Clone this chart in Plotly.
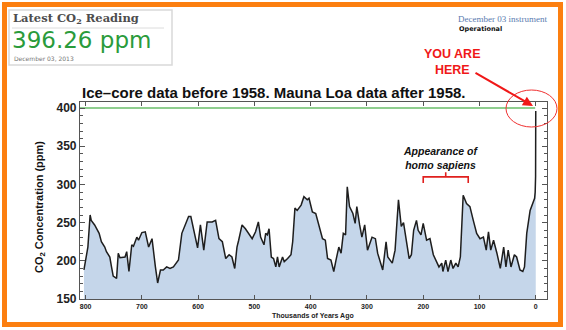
import plotly.graph_objects as go

# Carbon dioxide record: thousands of years before present and concentration (ppm)
years_kya = [
    803, 799, 796, 792, 790, 784, 781, 776, 772, 766, 763, 757, 754, 751, 745,
    742, 739, 730, 727, 723, 718, 715, 709, 706, 700, 694, 688, 682, 676, 672,
    667, 662, 656, 650, 644, 635, 629, 617, 613, 608, 601, 596, 590, 584, 575,
    569, 563, 557, 551, 545, 540, 535, 531, 528, 522, 516, 510, 504, 498, 493,
    489, 483, 480, 477, 474, 470, 466, 462, 459, 456, 450, 447, 441, 435, 432,
    428, 424, 417, 412, 406, 403, 397, 391, 385, 379, 374, 370, 364, 359, 355,
    350, 346, 342, 338, 335, 331, 325, 321, 318, 313, 309, 304, 299, 291, 285,
    281, 275, 272, 266, 263, 255, 250, 244, 239, 235, 230, 225, 221, 217, 212,
    209, 204, 200, 194, 188, 182, 176, 172, 167, 165, 160, 156, 151, 147, 142,
    138, 134, 129, 123, 117, 111, 105, 99, 93, 88, 84, 80, 75, 69, 63,
    57, 53, 49, 44, 38, 34, 28, 23, 20, 16, 10, 5, 2, 1, 0.3, 0,
]
co2_ppm = [
    188, 205, 218, 260, 253, 247, 243, 236, 225, 218, 212, 205, 192, 180, 177,
    210, 204, 205, 212, 186, 221, 219, 231, 227, 237, 238, 218, 229, 192, 171,
    188, 188, 192, 190, 192, 201, 236, 258, 258, 240, 217, 247, 214, 251, 251,
    253, 229, 225, 203, 208, 205, 190, 218, 227, 247, 242, 236, 229, 238, 251,
    231, 221, 236, 234, 242, 205, 203, 192, 205, 192, 205, 199, 203, 208, 225,
    269, 266, 273, 284, 280, 282, 264, 262, 247, 229, 227, 203, 201, 186, 201,
    218, 210, 236, 234, 297, 271, 262, 249, 271, 247, 231, 247, 214, 231, 229,
    210, 197, 188, 225, 205, 197, 214, 280, 245, 250, 225, 203, 208, 240, 253,
    240, 234, 249, 227, 229, 208, 199, 192, 197, 186, 201, 186, 201, 190, 197,
    192, 205, 286, 275, 271, 253, 236, 229, 231, 214, 238, 214, 227, 210, 190,
    218, 192, 214, 192, 208, 205, 188, 186, 192, 236, 266, 275, 282, 290, 310, 396.26,
]

x_ticks = [800, 700, 600, 500, 400, 300, 200, 100, 0]
reference_level = 400          # ppm guide line
latest_reading = "396.26 ppm"
latest_date = "December 03, 2013"
sapiens_span = (200, 120)      # thousands of years ago

W, H = 566, 330
L, R, T, B = 80, 547, 102, 299   # plot area in pixels


def px(x):
    return (x - L) / (R - L)


def py(y):
    return (B - y) / (B - T)


fig = go.Figure()

fig.add_trace(go.Scatter(
    x=[810, 1], y=[reference_level, reference_level], mode="lines",
    line=dict(color="#8fce8f", width=2), hoverinfo="skip", showlegend=False,
))
fig.add_trace(go.Scatter(
    x=years_kya, y=co2_ppm, mode="lines", fill="tozeroy",
    fillcolor="rgb(197,214,234)", line=dict(color="#1e1e1e", width=1.5),
    showlegend=False,
))

axis_common = dict(
    showline=True, linecolor="#555", linewidth=1.2, mirror="allticks",
    ticks="inside", tickcolor="#555", showgrid=False, zeroline=False,
)
fig.update_xaxes(
    range=[810, -20], tickvals=x_ticks, ticklen=4,
    tickfont=dict(family="Liberation Sans", size=7, color="#222", weight="bold"),
    **axis_common,
)
fig.update_yaxes(
    range=[150, 408], tick0=150, dtick=50, ticklen=5,
    minor=dict(ticks="inside", dtick=10, ticklen=3, tickcolor="#555"),
    tickfont=dict(family="Liberation Sans", size=12, color="#222", weight="bold"),
    **axis_common,
)

annotations = [
    dict(text="Ice–core data before 1958. Mauna Loa data after 1958.",
         x=px(80), y=py(92), xanchor="left", yanchor="middle",
         font=dict(family="Liberation Sans", size=15, color="#111", weight="bold")),
    dict(text="CO<sub>2</sub> Concentration (ppm)", textangle=-90,
         x=px(40), y=py(207), xanchor="center", yanchor="middle",
         font=dict(family="Liberation Sans", size=11, color="#111", weight="bold")),
    dict(text="Thousands of Years Ago", x=px(313), y=py(316),
         xanchor="center", yanchor="middle",
         font=dict(family="Liberation Sans", size=7, color="#222", weight="bold")),
    dict(text="Latest CO<sub>2</sub> Reading", x=px(11), y=py(18),
         xanchor="left", yanchor="middle",
         font=dict(family="DejaVu Serif", size=11.5, color="#4d4d4d", weight="bold")),
    dict(text=latest_reading, x=px(10), y=py(40), xanchor="left", yanchor="middle",
         font=dict(family="DejaVu Sans", size=23, color="#2a9b3b")),
    dict(text=latest_date, x=px(12), y=py(58), xanchor="left", yanchor="middle",
         font=dict(family="DejaVu Sans", size=6, color="#777")),
    dict(text="December 03 instrument", x=px(456), y=py(19),
         xanchor="left", yanchor="middle",
         font=dict(family="Liberation Serif", size=9, color="#5a7bb0")),
    dict(text="Operational", x=px(457), y=py(29), xanchor="left", yanchor="middle",
         font=dict(family="DejaVu Sans", size=6.5, color="#111", weight="bold")),
    dict(text="YOU ARE<br>HERE", x=px(452), y=py(62), xanchor="center", yanchor="middle",
         align="center",
         font=dict(family="Liberation Sans", size=12.5, color="#f01818", weight="bold")),
    dict(text="", x=px(533), y=py(106), ax=474 - 533, ay=72 - 106,
         showarrow=True, arrowhead=2, arrowsize=1, arrowwidth=2, arrowcolor="#f01818"),
    dict(text="<i>Appearance of<br>homo sapiens</i>", x=170, y=335, xref="x", yref="y",
         xanchor="center", yanchor="middle", align="center",
         font=dict(family="Liberation Sans", size=10.5, color="#111", weight="bold")),
]
for a in annotations:
    a.setdefault("xref", "paper")
    a.setdefault("yref", "paper")
    a.setdefault("showarrow", False)
fig.update_layout(annotations=annotations)

s0, s1 = sapiens_span
mid = (s0 + s1) / 2
shapes = [
    # reading panel
    dict(type="rect", xref="paper", yref="paper", x0=px(9), x1=px(172),
         y0=py(65), y1=py(10), line=dict(color="#d9d9d9", width=1.5),
         fillcolor="white", layer="below"),
    dict(type="line", xref="paper", yref="paper", x0=px(12), x1=px(164),
         y0=py(28), y1=py(28), line=dict(color="#dcdcdc", width=1)),
    # bracket over the sapiens interval
    dict(type="path", xref="x", yref="y",
         path=f"M {s0},302 L {s0},310 L {s1},310 L {s1},302 M {mid},310 L {mid},316",
         line=dict(color="#e0201e", width=1.6)),
    # circled present-day reading
    dict(type="circle", xref="paper", yref="paper", x0=px(506), x1=px(557),
         y0=py(127), y1=py(90), line=dict(color="#f03030", width=1)),
    # orange outer frame
    dict(type="rect", xref="paper", yref="paper", x0=px(4.5), x1=px(560.5),
         y0=py(324.5), y1=py(4.5), line=dict(color="#fc7f10", width=5)),
]
fig.update_layout(shapes=shapes)

fig.update_layout(
    width=W, height=H, margin=dict(l=L, r=W - R, t=T, b=H - B),
    paper_bgcolor="white", plot_bgcolor="white",
)

fig.write_html("out.html")
